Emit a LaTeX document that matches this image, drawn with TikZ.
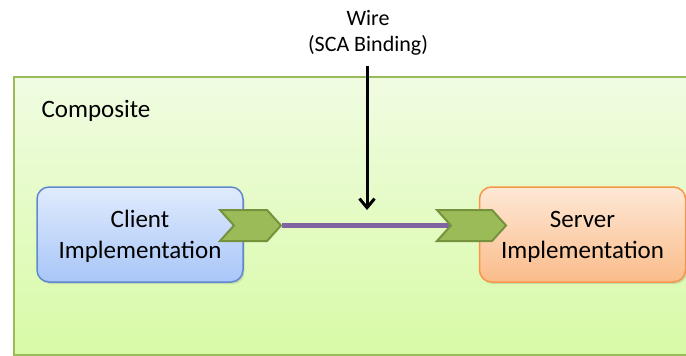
\documentclass[tikz,border=0pt]{standalone}
\usepackage{fontspec}
\setmainfont{Carlito}
\definecolor{compgreen}{RGB}{155, 187, 89}
\definecolor{compfilltop}{RGB}{240, 252, 226}
\definecolor{compfillbot}{RGB}{216, 250, 166}
\definecolor{clientline}{RGB}{96, 136, 206}
\definecolor{clienttop}{RGB}{224, 235, 253}
\definecolor{clientbot}{RGB}{168, 198, 248}
\definecolor{serverline}{RGB}{247, 150, 70}
\definecolor{servertop}{RGB}{254, 232, 214}
\definecolor{serverbot}{RGB}{250, 188, 138}
\definecolor{portline}{RGB}{118, 146, 60}
\definecolor{wirepurple}{RGB}{128, 100, 162}
\usetikzlibrary{shapes.symbols, arrows.meta, positioning, shadows}
\pgfdeclarelayer{bg}
\pgfdeclarelayer{wirelayer}
\pgfsetlayers{bg,wirelayer,main}

\begin{document}
\begin{tikzpicture}[
    x=1pt, y=-1pt,
    composite/.style={
        rectangle, draw=compgreen, line width=2pt, top color=compfilltop, bottom color=compfillbot,
        minimum width=700pt, minimum height=278pt, inner sep=0pt
    },
    impl/.style={
        rectangle, rounded corners=12pt, line width=1.5pt, minimum width=206pt, minimum height=95pt,
        align=center, font=\fontsize{25}{31}\selectfont, inner sep=0pt,
        drop shadow={opacity=0.25, shadow xshift=1.5pt, shadow yshift=-2pt}
    },
    port/.style={
        signal, signal to=east, signal from=west, signal pointer angle=96,
        fill=compgreen, draw=portline, line width=2pt, inner sep=0pt, minimum height=31pt
    },
    wire/.style={
        line width=5pt, draw=wirepurple
    },
    callout/.style={
        -{Straight Barb[length=9pt, width=15pt, line width=3pt]}, line width=3pt, draw=black
    }
]
\useasboundingbox (0,0) rectangle (686,356);

% Composite
\begin{pgfonlayer}{bg}
\node[composite, anchor=north west] (comp) at (13,76) {};
\end{pgfonlayer}
\node[anchor=west, font=\fontsize{25}{30}\selectfont] (complabel) at (38,111) {Composite};

% Implementations
\node[impl, draw=clientline, top color=clienttop, bottom color=clientbot] (client) at (140,234.5) {\rule{0pt}{22pt}Client\\Implementation};
\node[impl, draw=serverline, top color=servertop, bottom color=serverbot] (server) at (582.5,234.5) {\rule{0pt}{22pt}Server\\Implementation};

% Ports
\node[port, minimum width=61pt] (cport) at (250.5,225.5) {};
\node[port, minimum width=69pt] (sport) at (471.5,225.5) {};

% Wire
\begin{pgfonlayer}{wirelayer}
\draw[wire] (cport.east) -- (sport.center);
\end{pgfonlayer}

% Callout
\node[align=center, font=\fontsize{22}{26}\selectfont] (wirelabel) at (368,33) {Wire\\(SCA Binding)};
\coordinate (wiretip) at (367,210);
\draw[callout] (wirelabel.south) ++(-1,7) -- (wiretip);

\end{tikzpicture}
\end{document}
